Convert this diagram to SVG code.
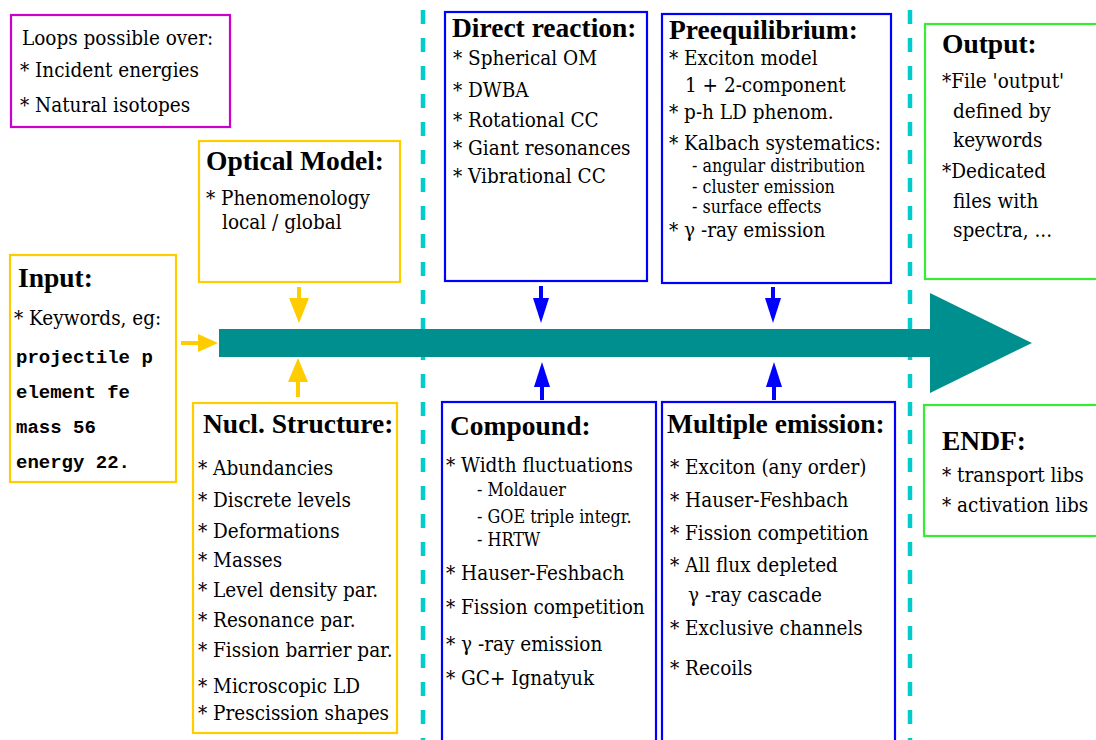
<svg xmlns="http://www.w3.org/2000/svg" width="1096" height="740" viewBox="0 0 1096 740">
<style>
text{font-family:"DejaVu Serif Condensed","DejaVu Serif",serif;font-stretch:condensed;fill:#000;font-size:20.5px}
.t{font-family:"Liberation Serif","Times New Roman",serif;font-stretch:normal;font-weight:bold;font-size:27.5px}
.s{font-size:17.8px}
.m{font-family:"Liberation Mono","Courier New",monospace;font-stretch:normal;font-weight:bold;font-size:19px}
.bx{fill:#fff;stroke-width:2.2}
.y{stroke:#ffcc00}.b{stroke:#0000ff}.g{stroke:#33ee33}.p{stroke:#cc00cc}
.dash{stroke:#00cccc;stroke-width:4.5;stroke-dasharray:14 14;fill:none}
</style>
<rect width="1096" height="740" fill="#fff"/>
<g id="separators">
<line class="dash" x1="423" y1="10" x2="423" y2="740"/>
<line class="dash" x1="910" y1="10" x2="910" y2="740"/>
</g>
<g id="connectors">
<polygon fill="#008f8f" points="219,329 930,329 930,293 1032,343 930,393 930,357 219,357"/>
<g fill="#ffcc00" stroke="#ffcc00">
<line x1="181" y1="343" x2="200" y2="343" stroke-width="4"/><polygon stroke="none" points="198,334 218,343 198,352"/>
<line x1="299" y1="287" x2="299" y2="300" stroke-width="4"/><polygon stroke="none" points="289,298 299,323 309,298"/>
<line x1="298" y1="397" x2="298" y2="380" stroke-width="4"/><polygon stroke="none" points="288,382 298,358 308,382"/>
</g>
<g fill="#0000ff" stroke="#0000ff">
<line x1="541" y1="286" x2="541" y2="300" stroke-width="4"/><polygon stroke="none" points="533,298 541,323 549,298"/>
<line x1="773" y1="287" x2="773" y2="300" stroke-width="4"/><polygon stroke="none" points="765,298 773,323 781,298"/>
<line x1="542" y1="400" x2="542" y2="385" stroke-width="4"/><polygon stroke="none" points="534,387 542,362 550,387"/>
<line x1="774" y1="400" x2="774" y2="385" stroke-width="4"/><polygon stroke="none" points="766,387 774,362 782,387"/>
</g>
</g>
<g id="loops">
<rect class="bx p" x="11" y="15" width="219" height="112"/>
<text x="22" y="45">Loops possible over:</text>
<text x="20" y="77">* Incident energies</text>
<text x="20" y="112">* Natural isotopes</text>
</g>
<g id="optical">
<rect class="bx y" x="199" y="141" width="201" height="141"/>
<text class="t" x="206" y="170">Optical Model:</text>
<text x="206" y="205">* Phenomenology</text>
<text x="222" y="229">local / global</text>
</g>
<g id="input">
<rect class="bx y" x="10" y="255" width="166" height="227"/>
<text class="t" x="18" y="287">Input:</text>
<text x="14" y="325">* Keywords, eg:</text>
<text class="m" x="16" y="363">projectile p</text>
<text class="m" x="16" y="398">element fe</text>
<text class="m" x="16" y="433">mass 56</text>
<text class="m" x="16" y="468">energy 22.</text>
</g>
<g id="nucl">
<rect class="bx y" x="193" y="403" width="204" height="330"/>
<text class="t" x="203" y="433">Nucl. Structure:</text>
<text x="198" y="475">* Abundancies</text>
<text x="198" y="507">* Discrete levels</text>
<text x="198" y="538">* Deformations</text>
<text x="198" y="567">* Masses</text>
<text x="198" y="597">* Level density par.</text>
<text x="198" y="627">* Resonance par.</text>
<text x="198" y="657">* Fission barrier par.</text>
<text x="198" y="693">* Microscopic LD</text>
<text x="198" y="720">* Prescission shapes</text>
</g>
<g id="direct">
<rect class="bx b" x="445" y="12" width="202" height="269"/>
<text class="t" x="452" y="37">Direct reaction:</text>
<text x="453" y="65">* Spherical OM</text>
<text x="453" y="97">* DWBA</text>
<text x="453" y="127">* Rotational CC</text>
<text x="453" y="155">* Giant resonances</text>
<text x="453" y="183">* Vibrational CC</text>
</g>
<g id="preeq">
<rect class="bx b" x="662" y="14" width="229" height="269"/>
<text class="t" x="669" y="39">Preequilibrium:</text>
<text x="669" y="65">* Exciton model</text>
<text x="685" y="92">1 + 2-component</text>
<text x="669" y="119">* p-h LD phenom.</text>
<text x="669" y="150">* Kalbach systematics:</text>
<text class="s" x="692" y="172">- angular distribution</text>
<text class="s" x="692" y="193">- cluster emission</text>
<text class="s" x="692" y="213">- surface effects</text>
<text x="669" y="237">* γ -ray emission</text>
</g>
<g id="output">
<rect class="bx g" x="925" y="24" width="176" height="255"/>
<text class="t" x="942" y="53">Output:</text>
<text x="942" y="88">*File 'output'</text>
<text x="953" y="118">defined by</text>
<text x="953" y="147">keywords</text>
<text x="942" y="178">*Dedicated</text>
<text x="953" y="208">files with</text>
<text x="953" y="237">spectra, ...</text>
</g>
<g id="compound">
<rect class="bx b" x="442" y="402" width="214" height="345"/>
<text class="t" x="450" y="435">Compound:</text>
<text x="446" y="472">* Width fluctuations</text>
<text class="s" x="477" y="496">- Moldauer</text>
<text class="s" x="477" y="523">- GOE triple integr.</text>
<text class="s" x="477" y="546">- HRTW</text>
<text x="446" y="580">* Hauser-Feshbach</text>
<text x="446" y="614">* Fission competition</text>
<text x="446" y="651">* γ -ray emission</text>
<text x="446" y="685">* GC+ Ignatyuk</text>
</g>
<g id="multiple">
<rect class="bx b" x="662" y="402" width="233" height="345"/>
<text class="t" x="667" y="433">Multiple emission:</text>
<text x="670" y="474">* Exciton (any order)</text>
<text x="670" y="507">* Hauser-Feshbach</text>
<text x="670" y="540">* Fission competition</text>
<text x="670" y="572">* All flux depleted</text>
<text x="688" y="602">γ -ray cascade</text>
<text x="670" y="635">* Exclusive channels</text>
<text x="670" y="675">* Recoils</text>
</g>
<g id="endf">
<rect class="bx g" x="924" y="405" width="177" height="131"/>
<text class="t" x="942" y="450">ENDF:</text>
<text x="942" y="482">* transport libs</text>
<text x="942" y="512">* activation libs</text>
</g>
</svg>
